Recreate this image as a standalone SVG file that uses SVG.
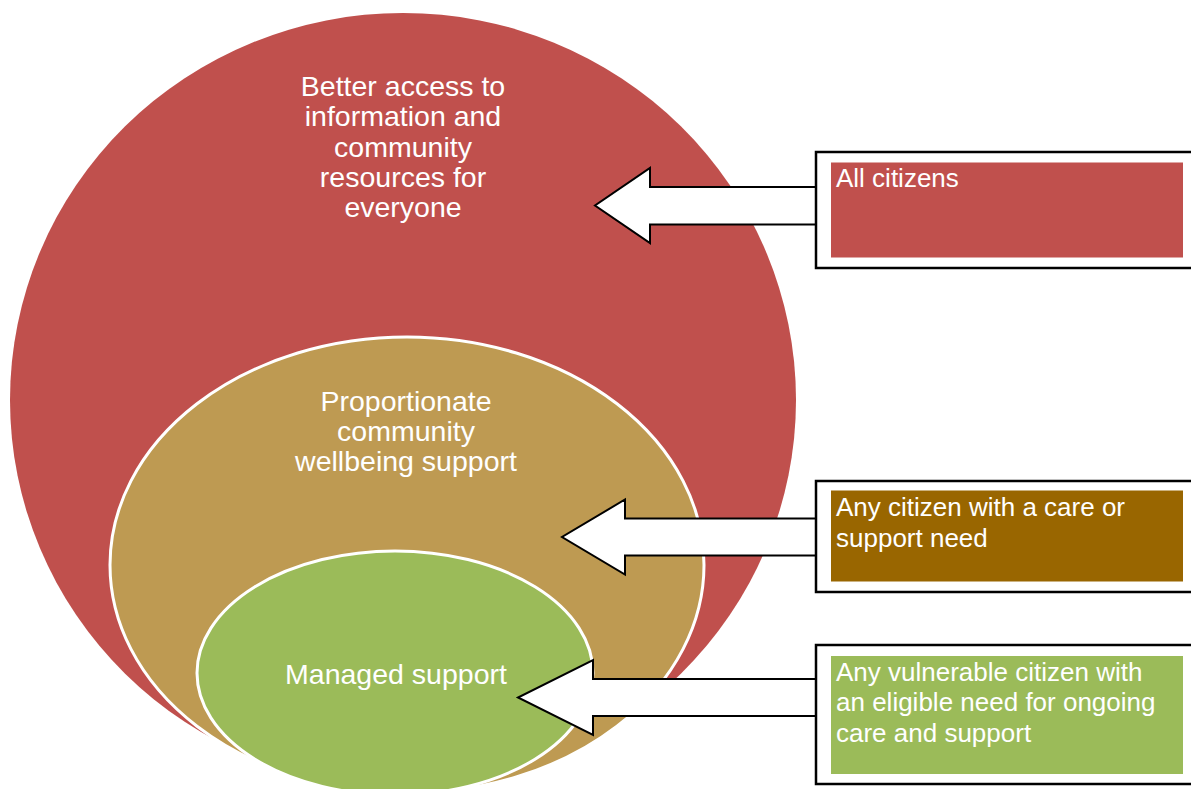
<svg xmlns="http://www.w3.org/2000/svg" width="1191" height="789" viewBox="0 0 1191 789">
<style>
.lbl{font-family:"Liberation Sans",Arial,sans-serif;fill:#fff}
.big{font-size:28.5px;text-anchor:middle}
.box{font-size:26px}
.arrow{fill:#fff;stroke:#000;stroke-width:2;stroke-linejoin:miter}
.frame{fill:#fff;stroke:#000;stroke-width:2.5}
.ring{stroke:#fff;stroke-width:3}
</style>
<rect width="1191" height="789" fill="#fff"/>
<g id="node-all">
<ellipse cx="403" cy="400" rx="393" ry="387" fill="#C0504D"/>
<text class="lbl big"><tspan x="403" y="96">Better access to</tspan><tspan x="403" y="126">information and</tspan><tspan x="403" y="156.5">community</tspan><tspan x="403" y="187">resources for</tspan><tspan x="403" y="217">everyone</tspan></text>
</g>
<g id="node-proportionate">
<ellipse class="ring" cx="407" cy="565" rx="297" ry="228" fill="#BE9A52"/>
<text class="lbl big"><tspan x="406" y="411">Proportionate</tspan><tspan x="406" y="441">community</tspan><tspan x="406" y="471">wellbeing support</tspan></text>
</g>
<g id="node-managed">
<ellipse class="ring" cx="395" cy="673" rx="198" ry="122" fill="#9BBB59"/>
<text class="lbl big" x="396" y="683.5">Managed support</text>
</g>
<g id="connectors">
<polygon class="arrow" points="816,187 650,187 650,168 595,205.5 650,243 650,224.5 816,224.5"/>
<polygon class="arrow" points="816,518.5 625,518.5 625,499.5 562,537 625,574.5 625,555.5 816,555.5"/>
<polygon class="arrow" points="816,679 593,679 593,660 518,697.5 593,735 593,716 816,716"/>
</g>
<g id="box-all">
<rect class="frame" x="816" y="152" width="380" height="116"/>
<rect x="831" y="162.5" width="352" height="95" fill="#C0504D"/>
<text class="lbl box" x="836" y="187">All citizens</text>
</g>
<g id="box-care">
<rect class="frame" x="816" y="481" width="380" height="111"/>
<rect x="831" y="490.5" width="352" height="91" fill="#996600"/>
<text class="lbl box"><tspan x="836" y="516">Any citizen with a care or</tspan><tspan x="836" y="546.5">support need</tspan></text>
</g>
<g id="box-vulnerable">
<rect class="frame" x="816" y="645" width="380" height="139"/>
<rect x="831" y="656" width="352" height="118" fill="#9BBB59"/>
<text class="lbl box"><tspan x="836" y="681">Any vulnerable citizen with</tspan><tspan x="836" y="711">an eligible need for ongoing</tspan><tspan x="836" y="741.5">care and support</tspan></text>
</g>
</svg>
